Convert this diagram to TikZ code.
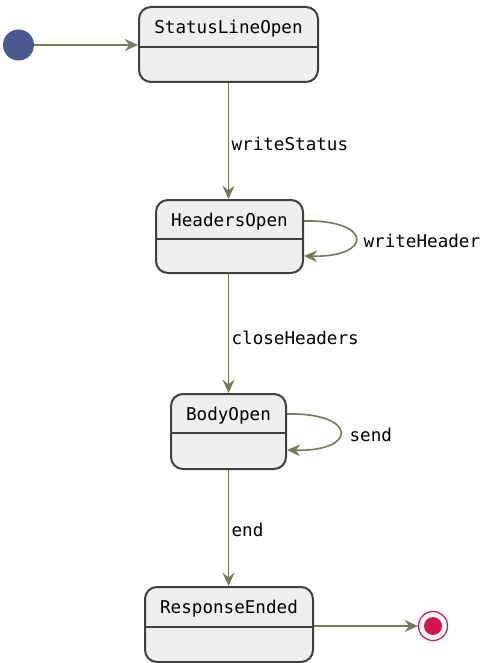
\documentclass[tikz,border=0pt]{standalone}
\usepackage{fontspec}
\setmonofont{DejaVu Sans Mono}
\usetikzlibrary{arrows.meta,calc}
\definecolor{edgecol}{HTML}{757A57}
\definecolor{boxborder}{HTML}{404040}
\definecolor{boxfill}{HTML}{EFEFEF}
\definecolor{initblue}{HTML}{4A5A91}
\definecolor{fincol}{HTML}{D3194A}
\begin{document}
\begin{tikzpicture}[x=0.75pt,y=-0.75pt,
  statebox/.style={draw=boxborder,fill=boxfill,line width=1.5pt,rounded corners=9pt,inner sep=0pt},
  divider/.style={draw=boxborder,line width=1.5pt},
  txt/.style={font=\ttfamily\fontsize{13.2}{15}\selectfont,inner sep=1pt},
  edge/.style={draw=edgecol,line width=1.2pt,-{Stealth[length=10pt,width=9pt,inset=3.5pt]}}]
\useasboundingbox (0,0) rectangle (484,663);
% states
\node[statebox,minimum width=179*0.75pt,minimum height=75*0.75pt] (s1) at (228.5,44.5) {};
\draw[divider] (s1.west |- 0,47) -- (s1.east |- 0,47);
\node[txt] (t1) at (228.5,29) {StatusLineOpen};
\node[statebox,minimum width=147*0.75pt,minimum height=73*0.75pt] (s2) at (229.5,236.5) {};
\draw[divider] (s2.west |- 0,239) -- (s2.east |- 0,239);
\node[txt] (t2) at (229.5,221.5) {HeadersOpen};
\node[statebox,minimum width=115*0.75pt,minimum height=75*0.75pt] (s3) at (228.5,431.5) {};
\draw[divider] (s3.west |- 0,433) -- (s3.east |- 0,433);
\node[txt] (t3) at (228.5,415.5) {BodyOpen};
\node[statebox,minimum width=168*0.75pt,minimum height=75*0.75pt] (s4) at (229,624.5) {};
\draw[divider] (s4.west |- 0,627) -- (s4.east |- 0,627);
\node[txt] (t4) at (229,608.5) {ResponseEnded};
% initial and final
\node[circle,fill=initblue,minimum size=31*0.75pt,inner sep=0pt] (init) at (18.5,45) {};
\node[circle,draw=fincol,fill=white,line width=0.9pt,minimum size=29*0.75pt,inner sep=0pt] (fin) at (433,626) {};
\node[circle,fill=fincol,minimum size=18*0.75pt,inner sep=0pt] (finin) at (fin) {};
% edges
\draw[edge] (init) -- (init -| s1.west);
\draw[edge] (s1.south) -- (s1.south |- s2.north);
\node[txt,anchor=west] (l1) at (230,144) {writeStatus};
\draw[edge] (s2.south -| s1.south) -- (s1.south |- s3.north);
\node[txt,anchor=west] (l2) at (230,338) {closeHeaders};
\draw[edge] (s3.south -| s1.south) -- (s1.south |- s4.north);
\node[txt,anchor=west] (l3) at (230,530) {end};
\draw[edge] (s4.east |- fin) -- (fin);
% self loops
\draw[edge] ($(s2.east)+(0,-15.5)$) .. controls ($(s2.east)+(69,-17)$) and ($(s2.east)+(69,21)$) .. ($(s2.east)+(0,19.5)$);
\node[txt,anchor=west] (l4) at (362,241) {writeHeader};
\draw[edge] ($(s3.east)+(0,-17.5)$) .. controls ($(s3.east)+(71,-19)$) and ($(s3.east)+(71,20.5)$) .. ($(s3.east)+(0,18.5)$);
\node[txt,anchor=west] (l5) at (348,435) {send};
\end{tikzpicture}
\end{document}
